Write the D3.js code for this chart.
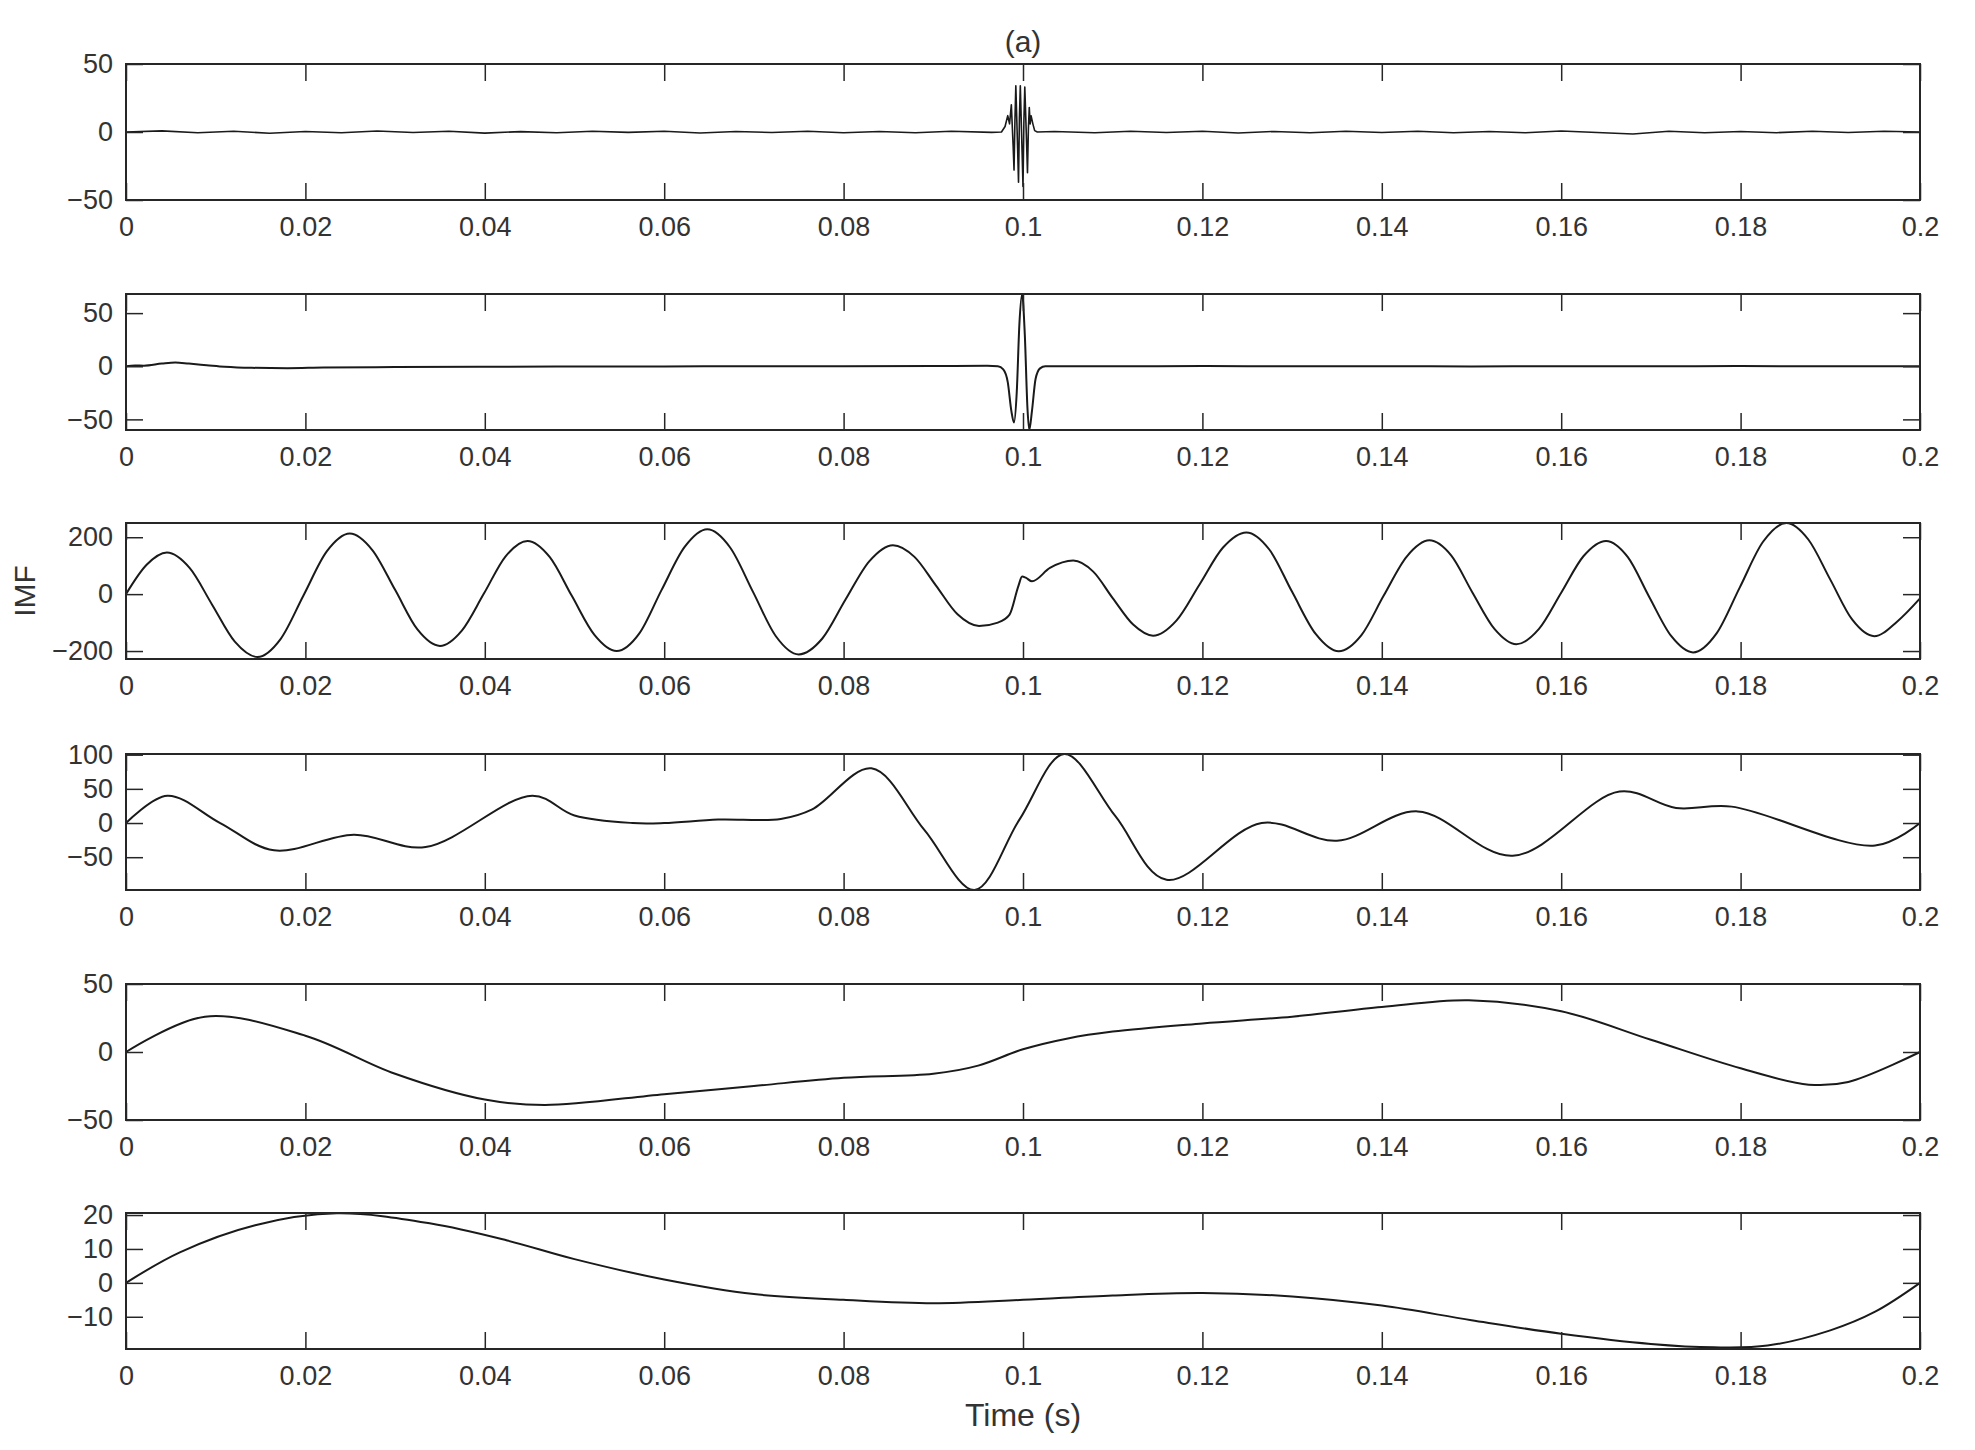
<!DOCTYPE html>
<html>
<head>
<meta charset="utf-8">
<script src="https://cdn.jsdelivr.net/npm/d3@7"></script>
<style>
  html, body { margin: 0; padding: 0; background: #fff; }
  svg text { font-family: "Liberation Sans", Arial, Helvetica, sans-serif; fill: #333; }
</style>
</head>
<body>
<svg id="chart" width="1975" height="1450"></svg>
<script>
// ---------------- DATA ----------------
const xTicks = [0, 0.02, 0.04, 0.06, 0.08, 0.1, 0.12, 0.14, 0.16, 0.18, 0.2];
const xTickLabels = ["0", "0.02", "0.04", "0.06", "0.08", "0.1", "0.12", "0.14", "0.16", "0.18", "0.2"];

const titleText = "(a)";
const yLabelText = "IMF";
const xLabelText = "Time (s)";

// IMF 1 : noise + high-frequency burst at 0.1 s  [time, value]
const imf1 = [
  [0,0],[0.004,0.8],[0.008,-0.6],[0.012,0.5],[0.016,-0.9],[0.02,0.4],[0.024,-0.5],[0.028,0.7],
  [0.032,-0.4],[0.036,0.6],[0.04,-0.8],[0.044,0.3],[0.048,-0.5],[0.052,0.6],[0.056,-0.3],[0.06,0.5],
  [0.064,-0.7],[0.068,0.4],[0.072,-0.4],[0.076,0.6],[0.08,-0.5],[0.084,0.4],[0.088,-0.6],[0.092,0.5],
  [0.0965,-0.3],[0.0976,0],[0.0980,4],[0.0983,12],[0.0985,6],[0.0987,20],[0.0989,-10],[0.0990,-28],
  [0.0991,8],[0.0992,34],[0.0994,-12],[0.0995,-37],[0.0996,10],[0.0997,34],[0.0999,-15],[0.1000,-40],
  [0.1001,8],[0.1002,33],[0.1004,-8],[0.1005,-30],[0.1006,2],[0.1007,18],[0.1008,6],[0.1009,12],
  [0.1011,6],[0.1013,1],[0.1016,0],[0.1035,0.4],[0.108,-0.5],[0.112,0.6],[0.116,-0.4],
  [0.12,0.5],[0.124,-0.7],[0.128,0.4],[0.132,-0.5],[0.136,0.6],[0.14,-0.4],[0.144,0.5],[0.148,-0.6],
  [0.152,0.4],[0.156,-0.5],[0.16,0.7],[0.164,-0.4],[0.168,-1.5],[0.172,0.5],[0.176,-0.6],[0.18,0.4],
  [0.184,-0.5],[0.188,0.6],[0.192,-0.4],[0.196,0.5],[0.2,0]
];

// IMF 2 : near-flat with sharp wavelet at 0.1 s
const imf2 = [
  [0,0],[0.001,0.8],[0.002,0.5],[0.004,2.5],[0.0055,3.5],[0.007,2.5],[0.009,1],[0.011,-0.5],
  [0.014,-1.5],[0.018,-1.8],[0.022,-1.2],[0.03,-0.8],[0.04,-0.5],[0.05,-0.3],[0.06,-0.2],[0.07,0],
  [0.08,0],[0.09,0.2],[0.096,0.5],[0.0972,0],[0.0978,-3],[0.0983,-15],[0.0987,-42],[0.0990,-53],
  [0.0993,-25],[0.0996,40],[0.0999,68],[0.1002,30],[0.1005,-40],[0.1007,-60],[0.1010,-42],[0.1014,-12],
  [0.1019,-2],[0.1025,0],[0.11,0],[0.12,0.2],[0.13,0],[0.14,0],[0.15,-0.2],[0.16,0],[0.17,0],
  [0.18,0.2],[0.19,0],[0.2,0]
];

// IMF 3 : ~50 Hz oscillation
const imf3 = [
  [0,0],[0.0023,103],[0.00456,146],[0.00709,92],[0.0096,-37],[0.01213,-167],[0.01466,-221],
  [0.01723,-158],[0.0198,-4],[0.02238,150],[0.02495,213],[0.02746,155],[0.030,15],[0.03249,-124],
  [0.0350,-182],[0.03744,-128],[0.0399,2],[0.04232,133],[0.04476,187],[0.04725,130],[0.0497,-6],
  [0.05222,-143],[0.0547,-200],[0.05723,-138],[0.0597,14],[0.06228,166],[0.0648,228],[0.06735,164],
  [0.0699,8],[0.07245,-148],[0.0750,-212],[0.07763,-156],[0.0802,-20],[0.08288,116],[0.0855,172],
  [0.0879,131],[0.0903,30],[0.0927,-71],[0.0951,-112],[0.0972,-100],[0.0985,-72],[0.0995,30],
  [0.0999,62],[0.1003,58],[0.1010,45],[0.1030,92],[0.1056,118],[0.10783,79],[0.1100,-14],
  [0.11228,-107],[0.1145,-146],[0.1171,-93],[0.1197,35],[0.1223,164],[0.1249,217],[0.12748,156],
  [0.1300,8],[0.13263,-140],[0.1352,-201],[0.13773,-144],[0.1402,-6],[0.14278,132],[0.1453,189],
  [0.14773,136],[0.1501,6],[0.15258,-123],[0.1550,-176],[0.1575,-123],[0.1600,5],[0.1625,134],
  [0.1650,187],[0.16743,130],[0.1698,-9],[0.17228,-148],[0.1747,-205],[0.1773,-139],[0.1799,23],
  [0.1825,184],[0.1851,250],[0.18755,192],[0.1900,51],[0.19245,-90],[0.1949,-148],[0.1975,-95],[0.2,-15]
];

// IMF 4
const imf4 = [
  [0,0],[0.0046,40],[0.0105,0],[0.0165,-40],[0.0254,-17],[0.0334,-35],[0.0453,40],[0.05,11],
  [0.0565,0],[0.06,0],[0.066,5],[0.073,6],[0.0765,20],[0.0831,80],[0.0890,-10],[0.0946,-98],
  [0.0996,5],[0.1046,101],[0.1103,10],[0.116,-83],[0.1266,0],[0.135,-26],[0.144,17],[0.1546,-48],
  [0.1665,46],[0.1728,22],[0.179,24],[0.195,-33],[0.2,0]
];

// IMF 5
const imf5 = [
  [0,0],[0.0088,26],[0.02,12],[0.03,-16],[0.04,-35],[0.0467,-39],[0.06,-31],[0.07,-25],[0.08,-19],
  [0.09,-16],[0.095,-10],[0.1,2],[0.105,10],[0.11,15],[0.12,21],[0.13,26],[0.14,33],[0.1497,38],
  [0.16,30],[0.17,9],[0.18,-12],[0.1876,-24],[0.192,-22],[0.2,0]
];

// IMF 6 (residue-like)
const imf6 = [
  [0,0],[0.006,9],[0.0144,17],[0.0235,20.5],[0.034,17.5],[0.0425,12.5],[0.05,7],[0.06,1],[0.07,-3.3],
  [0.08,-5],[0.09,-6],[0.1,-5],[0.11,-3.7],[0.12,-3],[0.13,-4],[0.14,-6.7],[0.15,-11],[0.16,-15],
  [0.17,-18],[0.177,-19],[0.183,-18.5],[0.19,-14],[0.195,-8.5],[0.2,0]
];

const seriesList = [imf1, imf2, imf3, imf4, imf5, imf6];
const yDomains = [[-50, 50], [-60, 68], [-228, 250], [-98, 101], [-50, 50], [-19.5, 20.6]];
const yTickSets = [[-50, 0, 50], [-50, 0, 50], [-200, 0, 200], [-50, 0, 50, 100], [-50, 0, 50], [-10, 0, 10, 20]];

// ---------------- LAYOUT ----------------
const plotLeft = 126, plotRight = 1920;
const panelTops = [64, 294, 523, 754, 984, 1213];
const panelH = 136;
const tickLen = 17;
const tickFont = 27;
const labelFont = 30;

const svg = d3.select("#chart");
svg.append("rect").attr("width", 1975).attr("height", 1450).attr("fill", "#fff");

const x = d3.scaleLinear().domain([0, 0.2]).range([plotLeft, plotRight]);
const curves = [d3.curveLinear, d3.curveMonotoneX, d3.curveMonotoneX,
                d3.curveCatmullRom.alpha(0.5), d3.curveCatmullRom.alpha(0.5), d3.curveCatmullRom.alpha(0.5)];

seriesList.forEach((data, i) => {
  const top = panelTops[i], bottom = top + panelH;
  const y = d3.scaleLinear().domain(yDomains[i]).range([bottom, top]);
  const g = svg.append("g");

  const line = d3.line()
    .x(d => x(d[0]))
    .y(d => y(d[1]))
    .curve(curves[i]);

  g.append("path")
    .datum(data)
    .attr("fill", "none")
    .attr("stroke", "#1a1a1a")
    .attr("stroke-width", i === 0 ? 1.6 : 2)
    .attr("stroke-linejoin", "round")
    .attr("d", line);

  const fmt = (d) => xTickLabels[xTicks.indexOf(d)];
  const axB = g.append("g").attr("transform", `translate(0,${bottom})`)
    .call(d3.axisBottom(x).tickValues(xTicks).tickFormat(fmt).tickSize(-tickLen).tickSizeOuter(0).tickPadding(17));
  const axT = g.append("g").attr("transform", `translate(0,${top})`)
    .call(d3.axisTop(x).tickValues(xTicks).tickFormat("").tickSize(-tickLen).tickSizeOuter(0));
  const axL = g.append("g").attr("transform", `translate(${plotLeft},0)`)
    .call(d3.axisLeft(y).tickValues(yTickSets[i]).tickFormat(d3.format("d")).tickSize(-tickLen).tickSizeOuter(0).tickPadding(13));
  const axR = g.append("g").attr("transform", `translate(${plotRight},0)`)
    .call(d3.axisRight(y).tickValues(yTickSets[i]).tickFormat("").tickSize(-tickLen).tickSizeOuter(0));

  [axB, axT, axL, axR].forEach(a => {
    a.select(".domain").remove();
    a.selectAll(".tick line").attr("stroke", "#262626").attr("stroke-width", 1.5);
    a.selectAll(".tick text")
      .attr("font-size", tickFont)
      .attr("font-family", "Liberation Sans, Arial, sans-serif")
      .attr("fill", "#333");
  });

  g.append("rect")
    .attr("x", plotLeft).attr("y", top)
    .attr("width", plotRight - plotLeft).attr("height", panelH)
    .attr("fill", "none").attr("stroke", "#262626").attr("stroke-width", 2);
});

svg.append("text")
  .attr("x", (plotLeft + plotRight) / 2).attr("y", 44)
  .attr("text-anchor", "middle").attr("dominant-baseline", "middle")
  .attr("font-size", labelFont).text(titleText);

svg.append("text")
  .attr("transform", `translate(27,${panelTops[2] + panelH / 2}) rotate(-90)`)
  .attr("text-anchor", "middle").attr("dominant-baseline", "middle")
  .attr("font-size", labelFont).text(yLabelText);

svg.append("text")
  .attr("x", (plotLeft + plotRight) / 2).attr("y", 1418)
  .attr("text-anchor", "middle").attr("dominant-baseline", "middle")
  .attr("font-size", labelFont + 2).text(xLabelText);
</script>
</body>
</html>
